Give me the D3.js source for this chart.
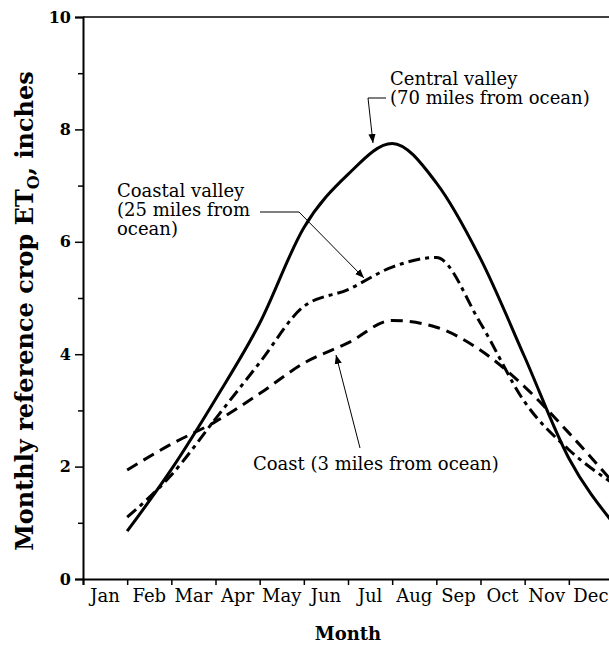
<!DOCTYPE html>
<html lang="en">
<head>
  <meta charset="UTF-8">
  <title>Monthly reference crop ETo</title>
  <script src="https://d3js.org/d3.v7.min.js"></script>
  <style>
    body { margin: 0; background: #fff; }
    svg text { font-family: "DejaVu Serif", serif; fill: #000; }
  </style>
</head>
<body>
  <div id="chart"></div>
  <script>
    const months = ["Jan", "Feb", "Mar", "Apr", "May", "Jun", "Jul", "Aug", "Sep", "Oct", "Nov", "Dec"];
    // monthly ETo, inches (points sit at the end of each month, as in the original)
    const centralValley = [0.85, 1.95, 3.2, 4.55, 6.25, 7.2, 7.75, 7.05, 5.7, 3.95, 2.15, 1.0];
    const coastalValley = [1.1, 1.85, 2.85, 3.85, 4.85, 5.15, 5.55, 5.72, 4.55, 3.15, 2.3, 1.7];
    const coast = [1.94, 2.4, 2.8, 3.3, 3.84, 4.2, 4.6, 4.48, 4.07, 3.42, 2.6, 1.72];
    const yMajor = [0, 2, 4, 6, 8, 10];
    const yMinor = [1, 3, 5, 7, 9];

    const width = 609, height = 645;
    const plotL = 83, plotT = 17, plotR = 613, plotB = 579;

    const svg = d3.select("#chart").append("svg")
      .attr("width", width).attr("height", height);

    const x = d3.scaleLinear().domain([0, 12]).range([plotL, plotR]);
    const y = d3.scaleLinear().domain([0, 10]).range([plotB, plotT]);

    // arrow head
    svg.append("defs").append("marker")
      .attr("id", "arrow")
      .attr("viewBox", "0 0 10 10")
      .attr("refX", 10).attr("refY", 5)
      .attr("markerWidth", 9).attr("markerHeight", 9)
      .attr("markerUnits", "userSpaceOnUse")
      .attr("orient", "auto")
      .append("path").attr("d", "M0,1 L10,5 L0,9 Z").attr("fill", "#000");

    // top frame line
    svg.append("line")
      .attr("x1", x(0)).attr("x2", x(12))
      .attr("y1", y(10)).attr("y2", y(10))
      .attr("stroke", "#000").attr("stroke-width", 1.5);

    // y axis
    const yAxis = svg.append("g")
      .attr("transform", `translate(${plotL},0)`)
      .call(d3.axisLeft(y).tickValues(yMajor).tickSize(8).tickPadding(4));
    svg.append("g")
      .attr("transform", `translate(${plotL},0)`)
      .call(d3.axisLeft(y).tickValues(yMinor).tickSize(5).tickFormat(""))
      .select(".domain").remove();
    yAxis.selectAll("text")
      .style("font-family", "DejaVu Serif, serif")
      .style("font-size", "16px").style("font-weight", "bold");

    // x axis: ticks on month boundaries, labels centred in between
    svg.append("g")
      .attr("transform", `translate(0,${plotB})`)
      .call(d3.axisBottom(x).tickValues(d3.range(0, 13)).tickSize(6).tickFormat(""));
    svg.append("g")
      .selectAll("text")
      .data(months)
      .join("text")
      .attr("x", (d, i) => x(i + 0.5))
      .attr("y", 602)
      .attr("text-anchor", "middle")
      .style("font-size", "18px")
      .text(d => d);

    svg.selectAll(".domain, .tick line")
      .attr("stroke", "#000").attr("stroke-width", 1.5);
    svg.selectAll(".domain").attr("stroke-width", 2);

    // curves
    const line = d3.line()
      .x((d, i) => x(i + 1))
      .y(d => y(d))
      .curve(d3.curveMonotoneX);

    const series = [
      { values: centralValley, dash: null },
      { values: coastalValley, dash: "12,5,4,5" },
      { values: coast, dash: "12,7" }
    ];
    svg.append("g")
      .selectAll("path")
      .data(series)
      .join("path")
      .attr("d", d => line(d.values))
      .attr("fill", "none")
      .attr("stroke", "#000")
      .attr("stroke-width", 3)
      .attr("stroke-dasharray", d => d.dash);

    // annotations
    const note = svg.append("g").style("font-size", "18px");
    note.append("text").attr("x", 390).attr("y", 85).text("Central valley");
    note.append("text").attr("x", 390).attr("y", 104).text("(70 miles from ocean)");
    note.append("text").attr("x", 117).attr("y", 197).text("Coastal valley");
    note.append("text").attr("x", 117).attr("y", 216).text("(25 miles from");
    note.append("text").attr("x", 117).attr("y", 235).text("ocean)");
    note.append("text").attr("x", 253).attr("y", 470).text("Coast (3 miles from ocean)");

    const leaders = [
      [[386, 98], [368, 98], [373, 143]],
      [[260, 212], [299, 212], [364, 278]],
      [[360, 448], [336, 355]]
    ];
    svg.append("g")
      .selectAll("path")
      .data(leaders)
      .join("path")
      .attr("d", d => d3.line()(d))
      .attr("fill", "none")
      .attr("stroke", "#000")
      .attr("stroke-width", 1)
      .attr("marker-end", "url(#arrow)");

    // axis titles
    svg.append("text")
      .attr("x", (plotL + plotR) / 2)
      .attr("y", 640)
      .attr("text-anchor", "middle")
      .style("font-size", "18px").style("font-weight", "bold")
      .text("Month");

    const yTitle = svg.append("text")
      .attr("transform", `translate(33,311) rotate(-90)`)
      .attr("text-anchor", "middle")
      .style("font-size", "24px").style("font-weight", "bold");
    yTitle.append("tspan").text("Monthly reference crop ET");
    yTitle.append("tspan").attr("dy", 6).style("font-size", "16px").text("O");
    yTitle.append("tspan").attr("dy", -6).text(", inches");
  </script>
</body>
</html>
